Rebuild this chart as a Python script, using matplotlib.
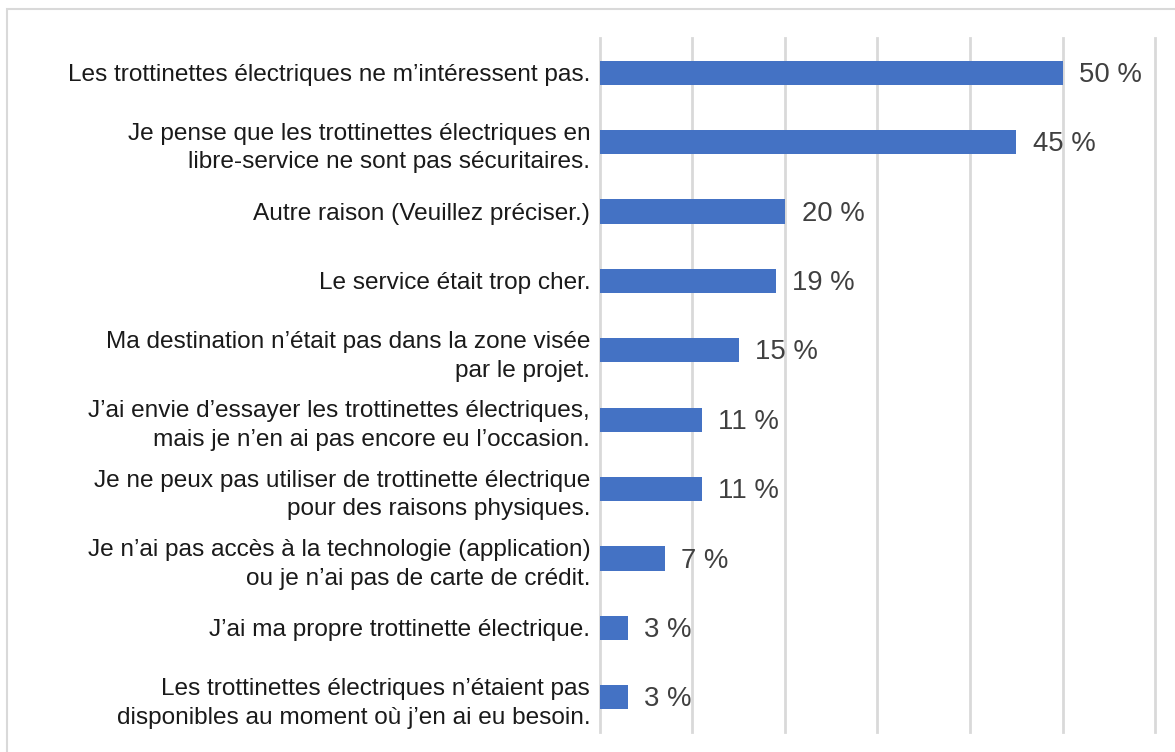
import matplotlib.pyplot as plt
from matplotlib.patches import Rectangle

# survey answers, top to bottom
raisons = ['Les trottinettes électriques ne m’intéressent pas.',
           'Je pense que les trottinettes électriques en\nlibre-service ne sont pas sécuritaires.',
           'Autre raison (Veuillez préciser.)',
           'Le service était trop cher.',
           'Ma destination n’était pas dans la zone visée\npar le projet.',
           'J’ai envie d’essayer les trottinettes électriques,\nmais je n’en ai pas encore eu l’occasion.',
           'Je ne peux pas utiliser de trottinette électrique\npour des raisons physiques.',
           'Je n’ai pas accès à la technologie (application)\nou je n’ai pas de carte de crédit.',
           'J’ai ma propre trottinette électrique.',
           'Les trottinettes électriques n’étaient pas\ndisponibles au moment où j’en ai eu besoin.']
pourcents = [50, 45, 20, 19, 15, 11, 11, 7, 3, 3]
grille = [0, 10, 20, 30, 40, 50, 60]

plt.rcParams['font.family'] = ['Liberation Sans', 'DejaVu Sans']

fig = plt.figure(figsize=(11.75, 7.52), dpi=100)
ax = fig.add_axes([0.5106, 0.0266, 0.983 - 0.5106, 0.9495 - 0.0266])

pos = list(range(len(raisons)))
ax.barh(pos, pourcents, height=0.35, color='#4472C4', zorder=3)
for y, v in zip(pos, pourcents):
    ax.text(v + 1.8, y + 0.03, '%d %%' % v, va='center', ha='left',
            fontsize=19.8, color='#404040', zorder=4)

ax.set_xlim(0, 60)
ax.set_ylim(len(raisons) - 0.5, -0.5)
ax.set_xticks(grille)
ax.set_xticklabels([])
ax.set_yticks(pos)
ax.set_yticklabels(raisons, fontsize=17.6, color='#1a1a1a', linespacing=1.4)
ax.tick_params(axis='both', length=0)
ax.tick_params(axis='y', pad=7)
ax.grid(axis='x', color='#D9D9D9', linewidth=2, zorder=0)
for g in ax.xaxis.get_gridlines():
    g.set_clip_on(False)
for s in ax.spines.values():
    s.set_visible(False)

# light frame around the chart area
fig.patches.append(Rectangle((7 / 1175, -0.1), 1.2, 1 - 9 / 752 + 0.1,
                             transform=fig.transFigure, fill=False,
                             edgecolor='#D9D9D9', linewidth=1.5))

fig.savefig('out.png', dpi=100)
